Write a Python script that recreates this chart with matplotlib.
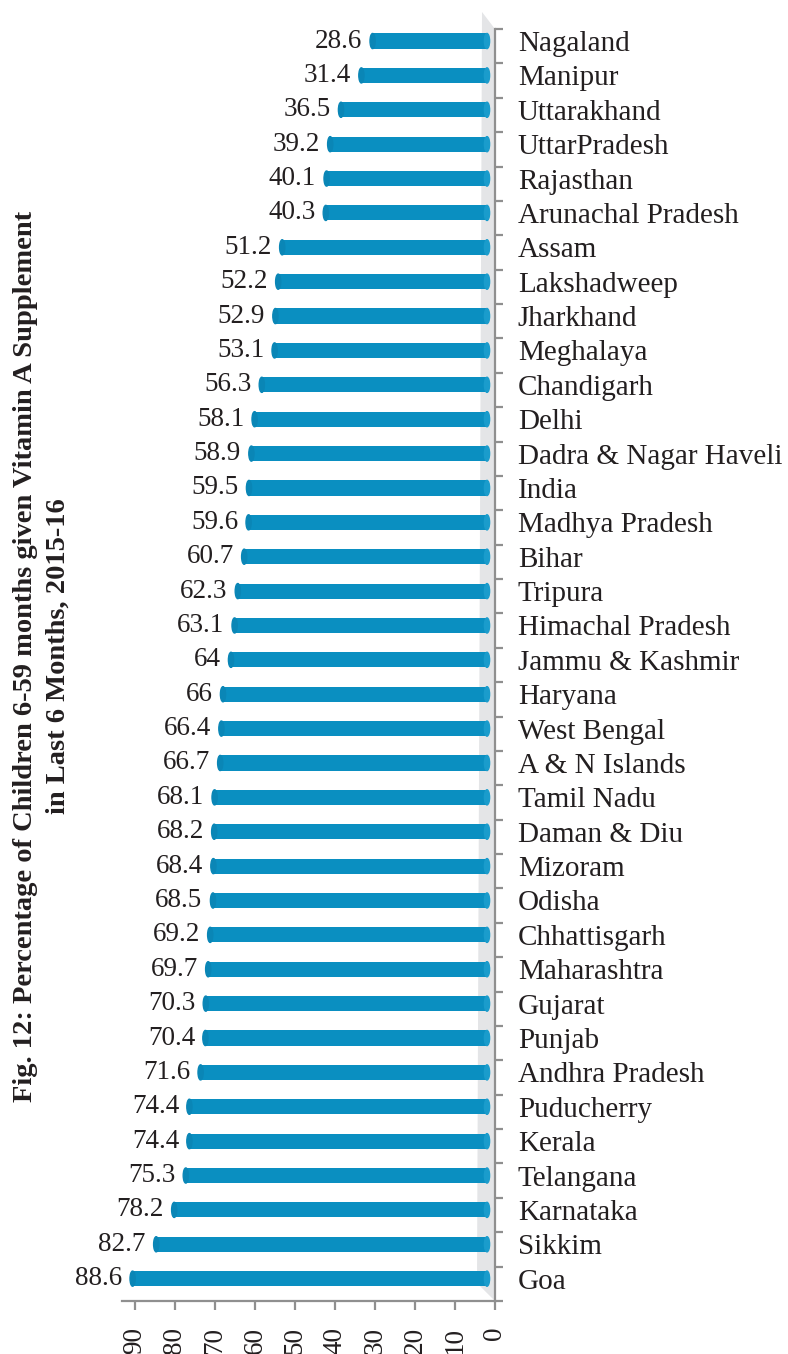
import matplotlib
matplotlib.use("Agg")
import matplotlib.pyplot as plt
from matplotlib.patches import Ellipse, Polygon
import numpy as np

states = ["Nagaland", "Manipur", "Uttarakhand", "UttarPradesh", "Rajasthan",
          "Arunachal Pradesh", "Assam", "Lakshadweep", "Jharkhand", "Meghalaya",
          "Chandigarh", "Delhi", "Dadra & Nagar Haveli", "India", "Madhya Pradesh",
          "Bihar", "Tripura", "Himachal Pradesh", "Jammu & Kashmir", "Haryana",
          "West Bengal", "A & N Islands", "Tamil Nadu", "Daman & Diu", "Mizoram",
          "Odisha", "Chhattisgarh", "Maharashtra", "Gujarat", "Punjab",
          "Andhra Pradesh", "Puducherry", "Kerala", "Telangana", "Karnataka",
          "Sikkim", "Goa"]
values = [28.6, 31.4, 36.5, 39.2, 40.1, 40.3, 51.2, 52.2, 52.9, 53.1,
          56.3, 58.1, 58.9, 59.5, 59.6, 60.7, 62.3, 63.1, 64, 66,
          66.4, 66.7, 68.1, 68.2, 68.4, 68.5, 69.2, 69.7, 70.3, 70.4,
          71.6, 74.4, 74.4, 75.3, 78.2, 82.7, 88.6]
x_ticks = [0, 10, 20, 30, 40, 50, 60, 70, 80, 90]

title1 = "Fig. 12: Percentage of Children 6-59 months given Vitamin A Supplement"
title2 = "in Last 6 Months, 2015-16"

plt.rcParams['font.family'] = ['Liberation Serif', 'DejaVu Serif']

BAR = '#0a8fc1'
GREY = '#8f8f8f'
TXT = '#231f20'
depth = 2.0      # 3d offset of the bars from the back wall
bar_h = 0.44

fig = plt.figure(figsize=(7.88, 13.54), dpi=100)
ax = fig.add_axes([122 / 788, 1 - 1301 / 1354, 373 / 788, 1272 / 1354])

n = len(states)
y = np.arange(n)
off = 0.35  # bars sit a bit above the category centres

# back wall of the 3d chart
wall = Polygon([(0, -off), (3.25, -0.845), (4.5, n - off - 0.52), (0, n - off)],
               closed=True, facecolor='#e4e5e7', edgecolor='none', zorder=0, clip_on=False)
ax.add_patch(wall)

ax.barh(y, values, left=depth, height=bar_h, color=BAR, edgecolor='none', zorder=3)
for yi, v in zip(y, values):
    ax.add_patch(Ellipse((depth + v, yi), 1.3, bar_h, color='#0a86b6', zorder=4))
    ax.add_patch(Ellipse((depth, yi), 1.3, bar_h, color='#1a9ccc', zorder=4))
    ax.text(depth + v + 2.6, yi, f"{v:g}", ha='right', va='center',
            fontsize=19.5, color=TXT, zorder=5)

ax.set_xlim(93.25, 0)
ax.set_ylim(n - off, -off)

ax.set_xticks(x_ticks)
ax.set_xticklabels([str(t) for t in x_ticks], rotation=90, fontsize=19.5, color=TXT)
ax.tick_params(axis='x', length=6.5, width=1.6, color=GREY, pad=12)

ax.yaxis.tick_right()
ax.set_yticks(y)
ax.set_yticklabels(states, fontsize=21, color=TXT)
ax.set_yticks(np.arange(n + 1) - off, minor=True)
ax.tick_params(axis='y', which='major', length=0, pad=16.5)
ax.tick_params(axis='y', which='minor', length=6, width=1.6, color=GREY)

for s in ['top', 'left']:
    ax.spines[s].set_visible(False)
for s in ['bottom', 'right']:
    ax.spines[s].set_color(GREY)
    ax.spines[s].set_linewidth(1.6)

fig.text(26 / 788, 1 - 656 / 1354, title1, rotation=90, ha='center', va='center',
         fontsize=20.5, fontweight='bold', color=TXT)
fig.text(58 / 788, 1 - 656 / 1354, title2, rotation=90, ha='center', va='center',
         fontsize=20.5, fontweight='bold', color=TXT)

fig.savefig('out.png', dpi=100)
